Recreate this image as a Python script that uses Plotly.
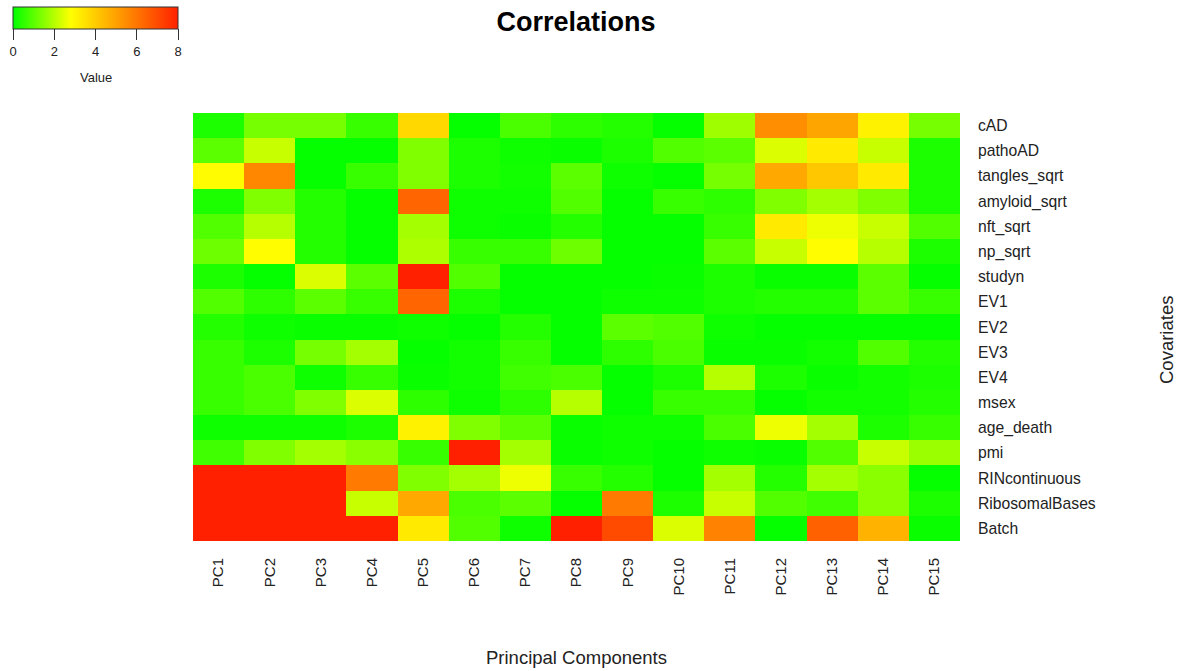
import plotly.graph_objects as go

pcs = ["PC%d" % i for i in range(1, 16)]
covariates = ["cAD", "pathoAD", "tangles_sqrt", "amyloid_sqrt", "nft_sqrt", "np_sqrt",
              "studyn", "EV1", "EV2", "EV3", "EV4", "msex", "age_death", "pmi",
              "RINcontinuous", "RibosomalBases", "Batch"]

# values per covariate row, PC1..PC15
cAD            = [0.3, 1.3, 1.3, 0.6, 3.7, 0.05, 0.8, 0.5, 0.4, 0.05, 1.75, 5.4, 4.9, 3.1, 1.3]
pathoAD        = [1.0, 2.2, 0.05, 0.05, 1.4, 0.3, 0.15, 0.1, 0.3, 0.9, 1.0, 2.4, 3.3, 2.2, 0.3]
tangles_sqrt   = [2.9, 5.6, 0.05, 0.6, 1.4, 0.3, 0.2, 1.0, 0.15, 0.05, 1.3, 4.8, 4.1, 3.3, 0.3]
amyloid_sqrt   = [0.3, 1.4, 0.4, 0.05, 6.4, 0.15, 0.15, 0.9, 0.05, 0.6, 0.5, 1.4, 1.8, 1.4, 0.3]
nft_sqrt       = [0.9, 2.0, 0.4, 0.05, 1.8, 0.15, 0.1, 0.4, 0.05, 0.05, 0.6, 3.3, 2.6, 2.2, 0.9]
np_sqrt        = [1.2, 2.85, 0.4, 0.05, 1.9, 0.6, 0.6, 1.2, 0.05, 0.05, 1.0, 2.2, 2.85, 2.0, 0.3]
studyn         = [0.3, 0.05, 2.4, 1.0, 8.0, 0.9, 0.05, 0.05, 0.05, 0.1, 0.3, 0.1, 0.1, 1.0, 0.05]
EV1            = [0.9, 0.5, 1.0, 0.6, 6.4, 0.3, 0.05, 0.05, 0.15, 0.15, 0.3, 0.4, 0.4, 1.0, 0.6]
EV2            = [0.4, 0.15, 0.1, 0.1, 0.15, 0.05, 0.4, 0.05, 1.0, 0.9, 0.15, 0.05, 0.05, 0.05, 0.05]
EV3            = [0.6, 0.3, 1.3, 1.8, 0.05, 0.2, 0.6, 0.05, 0.5, 0.8, 0.1, 0.1, 0.2, 0.9, 0.4]
EV4            = [0.6, 0.8, 0.15, 0.6, 0.1, 0.2, 0.7, 0.8, 0.05, 0.3, 2.0, 0.3, 0.1, 0.2, 0.3]
msex           = [0.6, 0.8, 1.4, 2.4, 0.5, 0.15, 0.5, 2.0, 0.05, 0.6, 0.6, 0.05, 0.2, 0.2, 0.4]
age_death      = [0.15, 0.15, 0.15, 0.3, 3.1, 1.4, 1.0, 0.1, 0.15, 0.15, 0.8, 2.6, 1.8, 0.3, 0.6]
pmi            = [0.7, 1.4, 1.8, 1.5, 0.6, 8.0, 1.8, 0.1, 0.15, 0.05, 0.15, 0.1, 0.9, 2.2, 1.7]
RINcontinuous  = [8.0, 8.0, 8.0, 5.9, 1.4, 1.8, 2.6, 0.6, 0.4, 0.05, 1.8, 0.4, 1.8, 1.5, 0.05]
RibosomalBases = [8.0, 8.0, 8.0, 2.2, 4.8, 0.8, 1.0, 0.05, 5.9, 0.3, 2.2, 0.9, 0.7, 1.5, 0.3]
Batch          = [8.0, 8.0, 8.0, 8.0, 3.3, 0.9, 0.15, 8.0, 7.0, 2.4, 5.7, 0.05, 6.5, 4.6, 0.1]

z = [cAD, pathoAD, tangles_sqrt, amyloid_sqrt, nft_sqrt, np_sqrt, studyn, EV1, EV2,
     EV3, EV4, msex, age_death, pmi, RINcontinuous, RibosomalBases, Batch]

colorscale = [[0.0, "rgb(0,255,0)"], [0.35, "rgb(255,255,0)"], [1.0, "rgb(255,32,0)"]]

W, H = 1187, 671
L, R, T, B = 193, 227, 113, 130
pw, ph = W - L - R, H - T - B

def px_x(p):
    return (p - L) / pw

def px_y(p):
    return (H - B - p) / ph

font = "Liberation Sans, Arial, sans-serif"

fig = go.Figure(go.Heatmap(
    x=pcs, y=covariates, z=z, zmin=0, zmax=8, colorscale=colorscale,
    xgap=0, ygap=0,
    colorbar=dict(
        orientation="h",
        x=px_x(13), xanchor="left",
        y=px_y(7), yanchor="top",
        len=165, lenmode="pixels",
        thickness=22, thicknessmode="pixels",
        xpad=0, ypad=0,
        outlinewidth=1, outlinecolor="#333",
        tickmode="array", tickvals=[0, 2, 4, 6, 8],
        ticks="outside", ticklen=11, tickcolor="#333",
        tickfont=dict(family=font, size=13, color="#222"),
    ),
))

fig.update_layout(
    width=W, height=H,
    margin=dict(l=L, r=R, t=T, b=B, autoexpand=False),
    paper_bgcolor="white", plot_bgcolor="white",
    title=dict(text="<b>Correlations</b>", x=px_x(576), xref="paper", xanchor="center",
               y=1 - 22 / H, yref="container", yanchor="middle",
               font=dict(family=font, size=27, color="black")),
    xaxis=dict(tickangle=-90, showgrid=False, zeroline=False, ticks="",
               ticklabelstandoff=13,
               tickfont=dict(family=font, size=15, color="#222")),
    yaxis=dict(side="right", autorange="reversed", showgrid=False, zeroline=False, ticks="",
               ticklabelstandoff=17,
               tickfont=dict(family=font, size=15.7, color="#222")),
    annotations=[
        dict(text="Value", xref="paper", yref="paper",
             x=px_x(96), y=px_y(77), xanchor="center", yanchor="middle", showarrow=False,
             font=dict(family=font, size=13, color="#222")),
        dict(text="Principal Components", xref="paper", yref="paper",
             x=px_x(576), y=px_y(657), xanchor="center", yanchor="middle", showarrow=False,
             font=dict(family=font, size=18.5, color="#222")),
        dict(text="Covariates", xref="paper", yref="paper", textangle=-90,
             x=px_x(1166), y=px_y(340), xanchor="center", yanchor="middle", showarrow=False,
             font=dict(family=font, size=18.5, color="#222")),
    ],
)

fig.write_html("out.html")
